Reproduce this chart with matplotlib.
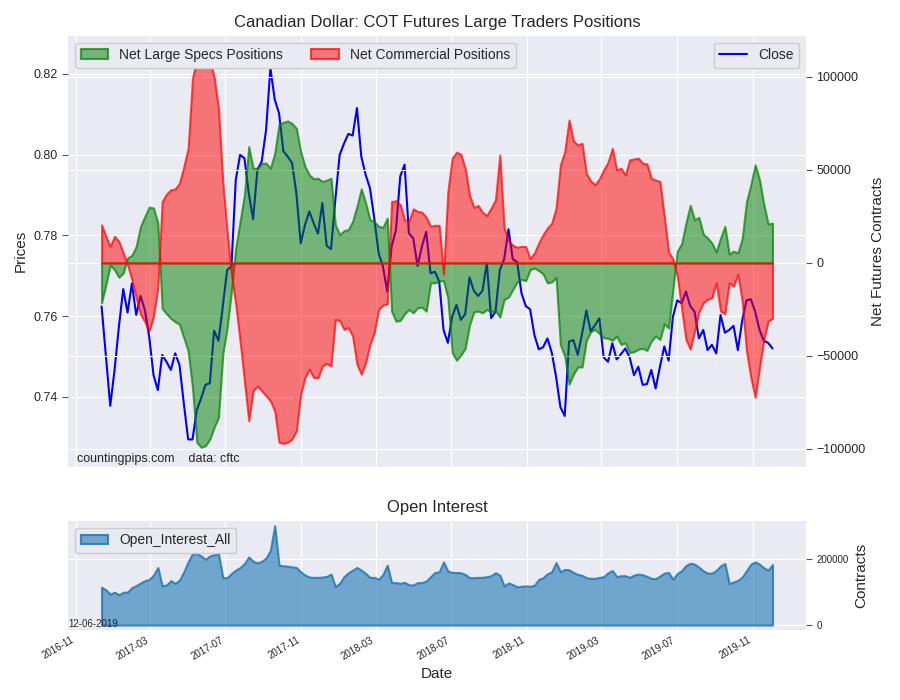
import matplotlib
matplotlib.use("Agg")
import matplotlib.pyplot as plt
import matplotlib.dates as mdates
import numpy as np
import pandas as pd

# weekly COT report dates
dates = pd.date_range("2016-12-13", periods=156, freq="7D")

close = [0.7624, 0.7500, 0.7378, 0.7467, 0.7574, 0.7667, 0.7609, 0.7681, 0.7603, 0.7650,
         0.7615, 0.7549, 0.7454, 0.7417, 0.7504, 0.7487, 0.7467, 0.7508, 0.7479, 0.7384,
         0.7295, 0.7295, 0.7368, 0.7397, 0.7430, 0.7434, 0.7564, 0.7539, 0.7624, 0.7714,
         0.7723, 0.7937, 0.7999, 0.7991, 0.7904, 0.7840, 0.7962, 0.7983, 0.8061, 0.8214,
         0.8136, 0.8102, 0.8008, 0.7995, 0.7979, 0.7904, 0.7780, 0.7826, 0.7859, 0.7830,
         0.7804, 0.7880, 0.7774, 0.7766, 0.7888, 0.7999, 0.8027, 0.8051, 0.8047, 0.8115,
         0.7995, 0.7950, 0.7917, 0.7842, 0.7756, 0.7723, 0.7661, 0.7772, 0.7813, 0.7946,
         0.7975, 0.7805, 0.7793, 0.7724, 0.7772, 0.7809, 0.7706, 0.7710, 0.7686, 0.7566,
         0.7534, 0.7599, 0.7628, 0.7591, 0.7605, 0.7696, 0.7663, 0.7650, 0.7663, 0.7731,
         0.7595, 0.7611, 0.7714, 0.7741, 0.7815, 0.7741, 0.7734, 0.7657, 0.7625, 0.7617,
         0.7553, 0.7518, 0.7523, 0.7545, 0.7510, 0.7450, 0.7375, 0.7353, 0.7537, 0.7541,
         0.7504, 0.7556, 0.7614, 0.7562, 0.7578, 0.7595, 0.7498, 0.7487, 0.7533, 0.7493,
         0.7506, 0.7520, 0.7498, 0.7454, 0.7475, 0.7430, 0.7432, 0.7467, 0.7421, 0.7475,
         0.7525, 0.7490, 0.7599, 0.7639, 0.7632, 0.7661, 0.7625, 0.7611, 0.7545, 0.7566,
         0.7516, 0.7529, 0.7508, 0.7603, 0.7559, 0.7566, 0.7576, 0.7516, 0.7589, 0.7639,
         0.7642, 0.7611, 0.7566, 0.7539, 0.7534, 0.7520]

large_specs = [-21400, -11600, -1200, -3600, -7700, -5400, 2700, 4100, 8900, 19700,
               25000, 30000, 29500, 21400, -24500, -27300, -29800, -31600, -33000, -40200,
               -47300, -67000, -96400, -99100, -98200, -94700, -88400, -83000, -49100, -34800,
               -15200, 8000, 22300, 36600, 62500, 50900, 50900, 53600, 53600, 50900,
               58900, 74500, 75600, 76300, 75000, 72300, 59800, 51800, 47300, 45200,
               45500, 43800, 44500, 45500, 20500, 15200, 17300, 17900, 22300, 30400,
               39800, 32200, 23200, 22300, 19700, 19100, 24100, -25900, -31300, -30900,
               -27300, -25000, -26800, -24100, -23800, -25900, -10700, -10700, -9800, -9500,
               -18800, -48200, -52300, -49500, -45900, -33400, -26300, -25900, -26800, -25000,
               -26300, -25500, -29100, -19600, -18400, -14300, -10200, -8900, -9500, -3600,
               -2700, -4100, -5900, -10700, -10200, -7700, -44000, -50000, -65200, -59800,
               -55900, -55900, -41600, -37000, -35700, -38000, -40200, -40500, -41600, -39300,
               -43800, -42900, -48200, -47700, -46400, -45900, -47000, -42000, -39300, -41100,
               -32700, -35000, -14000, 6300, 10200, 21400, 30900, 23200, 24500, 15500,
               13400, 10700, 5900, 13400, 19700, 4800, 6300, 5400, 13000, 33000,
               42000, 52700, 44700, 31300, 20900, 21400]

commercial = [20500, 14300, 8900, 14300, 11600, 5400, -900, -8900, -18700, -27700,
              -31600, -36600, -28600, -13400, 33000, 37000, 39300, 39800, 42900, 51800,
              61600, 99100, 109500, 111600, 111300, 109000, 100000, 83100, 43800, 17000,
              -6200, -22300, -42000, -63400, -84800, -68800, -66100, -68800, -71400, -74100,
              -79500, -96400, -97000, -96400, -94700, -90200, -70500, -61600, -57100, -61600,
              -61600, -55400, -54000, -55400, -30400, -30900, -35700, -34800, -39300, -54500,
              -59800, -53600, -43800, -37500, -25000, -22700, -22000, 33000, 33400, 31300,
              23200, 22300, 29100, 27700, 27300, 24500, 19700, 20200, 20200, -6000,
              38400, 56300, 59500, 58400, 50900, 36600, 29800, 30900, 27200, 25500,
              29500, 33900, 58000, 18800, 12000, 9500, 8400, 8900, 8800, 2300,
              5400, 10700, 15200, 18800, 21400, 29500, 52700, 59800, 76800, 65600,
              63400, 64300, 48200, 44100, 42000, 45200, 50000, 54100, 61600, 50000,
              50900, 47300, 55400, 55900, 56300, 53600, 53200, 45500, 44500, 43800,
              25000, 6000, 2000, -7100, -24100, -41100, -46400, -36600, -26300, -21400,
              -19600, -18700, -10700, -25900, -27300, -10700, -12500, -5900, -20500, -47300,
              -61600, -72300, -56300, -41100, -31300, -29800]

open_interest = [114300, 106400, 93400, 99400, 91450, 99400, 99400, 113300, 119300, 127300,
                 134200, 138200, 151100, 174000, 118300, 121300, 134200, 126300, 136200, 161100,
                 191000, 215800, 215800, 208900, 198900, 208900, 212800, 215800, 143200, 143200,
                 156100, 166100, 174000, 186000, 205900, 193000, 188000, 193000, 202900, 225800,
                 300400, 181000, 179000, 178000, 176000, 174000, 161100, 151100, 145200, 144200,
                 144200, 145200, 147200, 154100, 116300, 126300, 146200, 158100, 166100, 174000,
                 166100, 156100, 144200, 144200, 138200, 153100, 181000, 128300, 128300, 126300,
                 129300, 121300, 121300, 128300, 128300, 133200, 146200, 159100, 161100, 191000,
                 163100, 159100, 159100, 158100, 153100, 143200, 143200, 144200, 144200, 146200,
                 149200, 158100, 151100, 118300, 127300, 122300, 115300, 117300, 118300, 117300,
                 120300, 138200, 143200, 155100, 161100, 189000, 161100, 168100, 167100, 159100,
                 153100, 150200, 143200, 141200, 141200, 144200, 146200, 158100, 165100, 146200,
                 149200, 149200, 144200, 151100, 154100, 152100, 147200, 141200, 140200, 148200,
                 157100, 159100, 138200, 156100, 164100, 180000, 187000, 184000, 175000, 164100,
                 157100, 157100, 165100, 179000, 186000, 125300, 130300, 135200, 145200, 164100,
                 184000, 191000, 184000, 173000, 166100, 183000]

plt.style.use("seaborn-v0_8-darkgrid")
plt.rcParams['font.family'] = ['Liberation Sans', 'DejaVu Sans']

fig = plt.figure(figsize=(9, 7), dpi=100)
ax = fig.add_axes([0.0756, 0.333, 0.82, 0.616])
ax2 = ax.twinx()

# prices on the left
ax.plot(dates, close, color='blue', linewidth=1.5, label='Close')
ax.set_ylim(0.7227, 0.8294)
ax.set_ylabel('Prices', fontsize=11)
ax.tick_params(axis='y', labelsize=9, length=4, color='#555555', left=True)
ax.tick_params(axis='x', labelbottom=False)

# net positions on the right
ax2.fill_between(dates, 0, large_specs, facecolor=(0, 0.5, 0, 0.5),
                 edgecolor=(0, 0.5, 0, 0.7), linewidth=1.5, label='Net Large Specs Positions')
ax2.fill_between(dates, 0, commercial, facecolor=(1, 0, 0, 0.5),
                 edgecolor=(1, 0, 0, 0.7), linewidth=1.5, label='Net Commercial Positions')
ax2.set_ylabel('Net Futures Contracts', fontsize=11)
ax2.tick_params(axis='y', labelsize=9, length=4, color='#555555', right=True)
ax2.grid(True)

ax2.legend(loc='upper left', ncol=2, fontsize=10, frameon=True,
           facecolor='#EAEAF2', edgecolor='#CCCCCC', framealpha=1)
ax.legend(loc='upper right', fontsize=10, frameon=True,
          facecolor='#EAEAF2', edgecolor='#CCCCCC', framealpha=1)
ax2.text(0.012, 0.005, 'countingpips.com    data: cftc', transform=ax2.transAxes,
         fontsize=9, va='bottom', ha='left')
ax.set_title('Canadian Dollar: COT Futures Large Traders Positions', fontsize=12)

# open interest
bx = fig.add_axes([0.0756, 0.1, 0.82, 0.156], sharex=ax)
bx.fill_between(dates, 0, open_interest, facecolor=(0.12, 0.47, 0.71, 0.6),
                edgecolor=(0.12, 0.47, 0.71, 0.85), linewidth=1.5, label='Open_Interest_All')
bx.set_yticks([0, 200000])
bx.yaxis.tick_right()
bx.yaxis.set_label_position('right')
bx.set_ylabel('Contracts', fontsize=11)
bx.tick_params(axis='y', labelsize=7, length=4, color='#555555', right=True)
bx.set_title('Open Interest', fontsize=12)
bx.set_xlabel('Date', fontsize=11)
bx.legend(loc='upper left', fontsize=10, frameon=True,
          facecolor='#EAEAF2', edgecolor='#CCCCCC', framealpha=1)
bx.text(0.0, 0.01, '12-06-2019', transform=bx.transAxes, fontsize=7, va='bottom', ha='left')

bx.xaxis.set_major_locator(mdates.MonthLocator(bymonth=[3, 7, 11]))
bx.xaxis.set_major_formatter(mdates.DateFormatter('%Y-%m'))
for lbl in bx.get_xticklabels():
    lbl.set_rotation(30)
    lbl.set_ha('right')
    lbl.set_fontsize(7)

fig.savefig('out.png', dpi=100)
